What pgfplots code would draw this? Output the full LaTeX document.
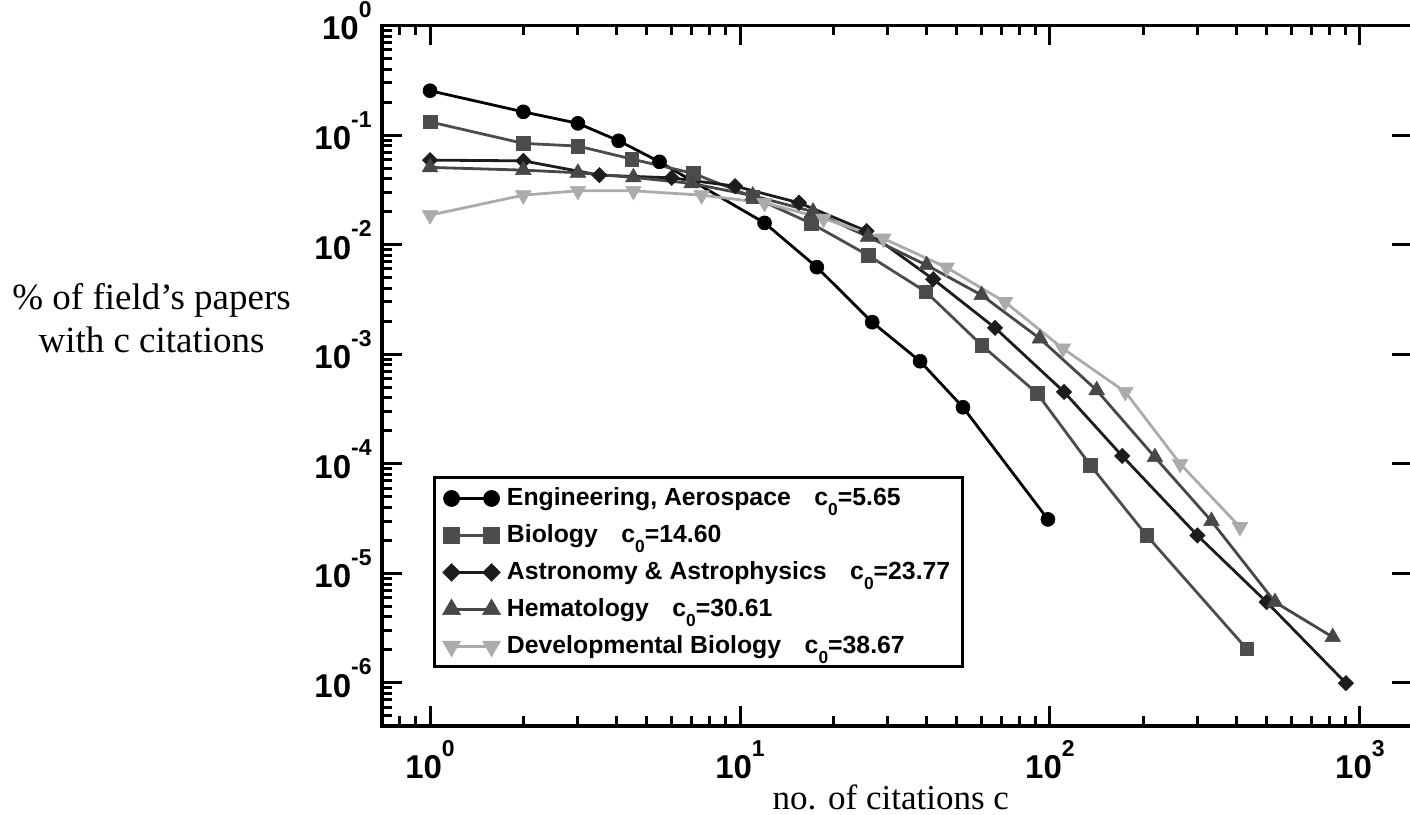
\documentclass[border=0pt]{standalone}
\usepackage{fontspec}
\setmainfont{Liberation Serif}
\newfontfamily\arial{Liberation Sans}
\usepackage{pgfplots}
\pgfplotsset{compat=1.18}

% 10^k tick labels in bold sans
\newcommand{\tenpow}[1]{10\raisebox{11.2pt}{\fontsize{11.5}{13}\selectfont #1}}
\newcommand{\sub}[1]{\raisebox{-5pt}{\fontsize{8.7}{9}\selectfont #1}}

\definecolor{cEng}{gray}{0}
\definecolor{cBio}{gray}{0.30}
\definecolor{cAst}{gray}{0.11}
\definecolor{cHem}{gray}{0.28}
\definecolor{cDev}{gray}{0.67}

\begin{document}
\begin{tikzpicture}
\begin{axis}[
  name=main,
  scale only axis, width=515pt, height=350.35pt,
  xmode=log, ymode=log, log basis x=10, log basis y=10,
  xmin=0.7, xmax=1472, ymin=4.03e-7, ymax=1,
  xtick={1,10,100,1000},
  ytick={1e-6,1e-5,1e-4,1e-3,1e-2,1e-1,1},
  minor xtick={0.8,0.9,2,3,4,5,6,7,8,9,20,30,40,50,60,70,80,90,200,300,400,500,600,700,800,900},
  minor ytick={5e-7,6e-7,7e-7,8e-7,9e-7,
    2e-6,3e-6,4e-6,5e-6,6e-6,7e-6,8e-6,9e-6,
    2e-5,3e-5,4e-5,5e-5,6e-5,7e-5,8e-5,9e-5,
    2e-4,3e-4,4e-4,5e-4,6e-4,7e-4,8e-4,9e-4,
    2e-3,3e-3,4e-3,5e-3,6e-3,7e-3,8e-3,9e-3,
    2e-2,3e-2,4e-2,5e-2,6e-2,7e-2,8e-2,9e-2,
    0.2,0.3,0.4,0.5,0.6,0.7,0.8,0.9},
  axis line style={line width=1.8pt},
  tick style={line width=1.5pt, black},
  major tick length=10pt, minor tick length=5pt,
  xtick pos=both, ytick pos=left,
  xticklabel={\tenpow{\pgfmathparse{int(round(\tick))}\pgfmathresult}},
  yticklabel={\tenpow{\pgfmathparse{int(round(\tick))}\pgfmathresult}},
  xticklabel style={font=\arial\bfseries\fontsize{16.5}{19}\selectfont, anchor=base, inner sep=0pt, yshift=-26.2pt},
  yticklabel style={font=\arial\bfseries\fontsize{16.5}{19}\selectfont, anchor=base east, inner sep=0pt, xshift=-5pt, yshift=-7.2pt},
  xlabel={no. of citations c},
  xlabel style={at={(rel axis cs:0.494,-0.101)}, anchor=center, font=\fontsize{17.5}{21}\selectfont},
  ylabel={\% of field's papers\\with c citations},
  ylabel style={rotate=-90, at={(rel axis cs:-0.2237,0.582)}, anchor=center, align=center, font=\fontsize{18.5}{21.3}\selectfont},
  legend style={at={(rel axis cs:0.0496,0.3564)}, anchor=north west, draw=black, line width=1.5pt,
    font=\arial\bfseries\fontsize{12.4}{14}\selectfont, inner xsep=4pt, inner ysep=3pt, row sep=4pt},
  legend cell align=left,
  legend image code/.code={\draw[#1, every mark/.append style={scale=1.15}] plot coordinates {(2pt,0pt) (22pt,0pt)}; \path (27pt,0pt);},
]
\addplot[cEng, line width=1.4pt, mark=*, mark size=3.5pt, mark options={solid, fill=cEng, line width=0.3pt}]
  coordinates {(1,0.254) (2,0.163) (3,0.128) (4.06,0.0887) (5.5,0.057) (12.0,0.0158)
  (17.7,0.00623) (26.7,0.00196) (38.1,8.63e-4) (52.4,3.28e-4) (98.5,3.11e-5)};
\addlegendentry{Engineering, Aerospace\hspace{0.95em}c\sub{0}=5.65}

\addplot[cBio, line width=1.4pt, mark=square*, mark size=3.4pt, mark options={solid, fill=cBio, line width=0.3pt}]
  coordinates {(1,0.132) (2,0.084) (3,0.0794) (4.48,0.0604) (7.07,0.0447) (11.0,0.0273)
  (17.0,0.0156) (25.9,0.0080) (39.8,0.00371) (60.2,0.00121) (91,4.38e-4) (135,9.7e-5)
  (205,2.22e-5) (431,2.05e-6)};
\addlegendentry{Biology\hspace{0.95em}c\sub{0}=14.60}

\addplot[cAst, line width=1.4pt, mark=square*, mark size=2.7pt, mark options={solid, rotate=45, fill=cAst, line width=0.3pt}]
  coordinates {(1,0.0591) (2,0.0582) (3.52,0.0431) (6.02,0.0407) (9.64,0.0342) (15.5,0.0241)
  (25.6,0.0133) (42,0.00484) (66.5,0.00174) (111,4.53e-4) (171,1.18e-4) (299,2.22e-5)
  (500,5.47e-6) (901,9.96e-7)};
\addlegendentry{Astronomy \& Astrophysics\hspace{0.95em}c\sub{0}=23.77}

\addplot[cHem, line width=1.4pt, mark=triangle*, mark size=4.5pt, mark options={solid, fill=cHem, line width=0.3pt}]
  coordinates {(1,0.0507) (2,0.0479) (3,0.0453) (4.53,0.0411) (6.98,0.0362) (11,0.028)
  (17.2,0.0200) (25.9,0.0118) (40,0.0065) (60.2,0.00346) (92.8,0.00139) (141.5,4.69e-4)
  (218,1.15e-4) (332,3.0e-5) (532,5.47e-6) (817,2.62e-6)};
\addlegendentry{Hematology\hspace{0.95em}c\sub{0}=30.61}

\addplot[cDev, line width=1.4pt, mark=triangle*, mark size=4.5pt, mark options={solid, rotate=180, fill=cDev, line width=0.3pt}]
  coordinates {(1,0.0186) (2,0.0283) (3,0.031) (4.53,0.031) (7.52,0.0283) (12.0,0.0241)
  (18.6,0.0173) (29.0,0.0114) (46.4,0.00619) (71.6,0.0030) (110,0.00113) (175,4.53e-4)
  (263,1.0e-4) (410,2.65e-5)};
\addlegendentry{Developmental Biology\hspace{0.95em}c\sub{0}=38.67}
\end{axis}

% right-hand spine: major ticks only
\begin{axis}[
  scale only axis, width=515pt, height=350.35pt,
  xmode=log, ymode=log, log basis x=10, log basis y=10,
  xmin=0.7, xmax=1472, ymin=4.03e-7, ymax=1,
  ytick={1e-6,1e-5,1e-4,1e-3,1e-2,1e-1,1},
  minor ytick={},
  hide x axis,
  axis line style={line width=1.8pt},
  tick style={line width=1.5pt, black},
  major tick length=10pt, minor tick length=0pt,
  ytick pos=right, yticklabels={},
]
\end{axis}

\pgfresetboundingbox
\path ([xshift=-191pt,yshift=-44.15pt]main.south west) rectangle ([xshift=-1pt,yshift=12.75pt]main.north east);
\end{tikzpicture}
\end{document}
